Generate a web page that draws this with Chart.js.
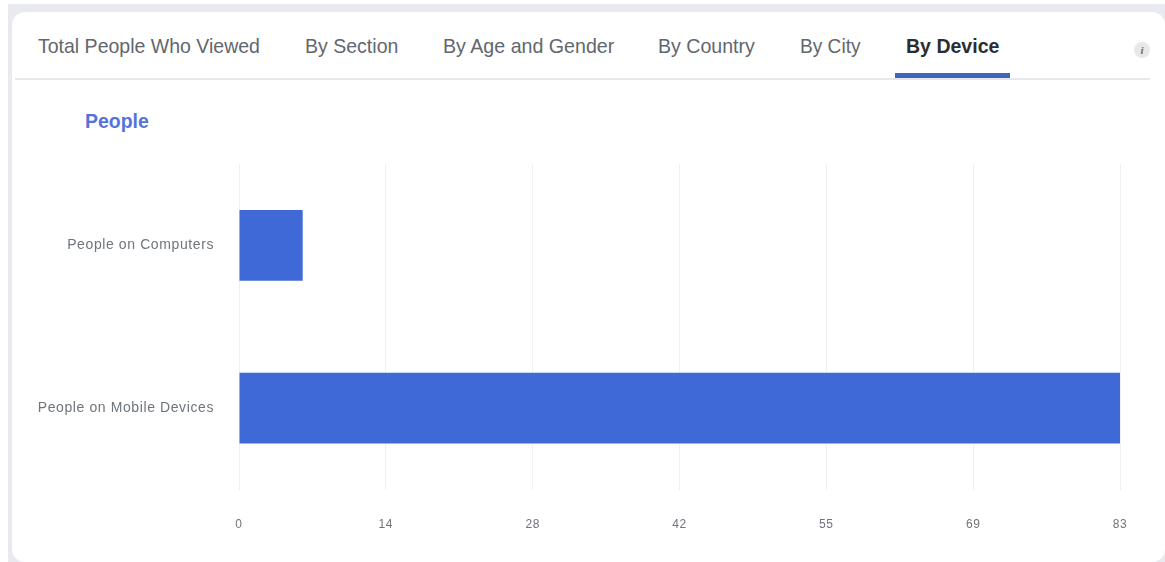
<!DOCTYPE html>
<html>
<head>
<meta charset="utf-8">
<title>By Device</title>
<script src="https://cdn.jsdelivr.net/npm/chart.js@4"></script>
<style>
  html, body { margin: 0; padding: 0; background: #fff; }
  body { width: 1165px; height: 562px; overflow: hidden; position: relative; font-family: "Liberation Sans", Arial, sans-serif; }
  #page { position: absolute; left: 0; top: 0; width: 1165px; height: 562px; filter: blur(0.5px); }
  .frame { position: absolute; left: 8px; top: 4px; width: 1157px; height: 558px; background: #e9eaef; }
  .card { position: absolute; left: 12px; top: 12px; width: 1153px; height: 550px; background: #fff; border-radius: 13px; }
  .rule { position: absolute; left: 15px; top: 78px; width: 1135px; height: 2px; background: #e6e7eb; }
  .tab { position: absolute; top: 33px; font-size: 21px; line-height: 26px; color: #62666e; white-space: nowrap; transform-origin: left top; }
  .tab.active { color: #2b2d33; font-weight: bold; }
  .underline { position: absolute; left: 895px; top: 73px; width: 115px; height: 5px; background: #3f66b6; }
  .heading { position: absolute; left: 85px; top: 108px; font-size: 21px; line-height: 26px; font-weight: bold; color: #5672db; transform-origin: left top; }
  .info { position: absolute; left: 1134px; top: 42px; width: 16px; height: 16px; border-radius: 50%; background: #e8e8e8; color: #6d6d6d; font: italic bold 11px/16px "Liberation Serif", serif; text-align: center; }
  #chart { position: absolute; left: 0; top: 0; }
</style>
</head>
<body>
<div id="page">
<div class="frame"></div>
<div class="card"></div>
<div class="rule"></div>
<div class="tab" style="left:38px">Total People Who Viewed</div>
<div class="tab" style="left:305px">By Section</div>
<div class="tab" style="left:443px">By Age and Gender</div>
<div class="tab" style="left:658px">By Country</div>
<div class="tab" style="left:800px">By City</div>
<div class="tab active" style="left:906px">By Device</div>
<div class="underline"></div>
<div class="info">i</div>
<div class="heading">People</div>
<canvas id="chart" width="1165" height="562"></canvas>
</div>
<script>
const categories = ['People on Computers', 'People on Mobile Devices']
const peopleValues = [6, 83]
const tickLabels = ['0', '14', '28', '42', '55', '69', '83']
const axisMax = 83

const tabs = document.querySelectorAll('.tab')
const tabWidths = [222, 93, 171, 97, 61, 93]
tabs.forEach((tab, i) => {
  tab.style.transform = `scaleX(${tabWidths[i] / tab.offsetWidth})`
})
const heading = document.querySelector('.heading')
heading.style.transform = `scaleX(${64 / heading.offsetWidth})`

// the axis labels in the reference are set wider than the plain font
const wideLabels = {
  id: 'wideLabels',
  beforeDraw: chart => { chart.ctx.letterSpacing = '0.6px' }
}

new Chart(document.getElementById('chart'), {
  type: 'bar',
  plugins: [wideLabels],
  data: {
    labels: categories,
    datasets: [
      {
        label: 'People',
        data: peopleValues,
        backgroundColor: '#3e69d6',
        barPercentage: 0.436,
        categoryPercentage: 1
      }
    ]
  },
  options: {
    indexAxis: 'y',
    responsive: false,
    animation: false,
    layout: { padding: { left: 0, top: 164, right: 45, bottom: 0 } },
    plugins: { legend: { display: false }, tooltip: { enabled: false } },
    scales: {
      x: {
        min: 0,
        max: axisMax,
        border: { display: false },
        grid: { color: '#eff0f2', lineWidth: 1, drawTicks: false },
        afterBuildTicks: scale => {
          scale.ticks = tickLabels.map((_, i) => ({ value: axisMax * i / (tickLabels.length - 1) }))
        },
        afterFit: scale => { scale.height = 72.5 },
        ticks: {
          autoSkip: false,
          maxRotation: 0,
          padding: 28,
          color: '#6f757d',
          font: { family: 'Liberation Sans', size: 12 },
          callback: (value, index) => tickLabels[index]
        }
      },
      y: {
        border: { display: false },
        grid: { display: false, drawTicks: false },
        afterFit: scale => { scale.width = 239 },
        ticks: {
          padding: 25,
          color: '#6f757d',
          font: { family: 'Liberation Sans', size: 14 }
        }
      }
    }
  }
})
</script>
</body>
</html>
